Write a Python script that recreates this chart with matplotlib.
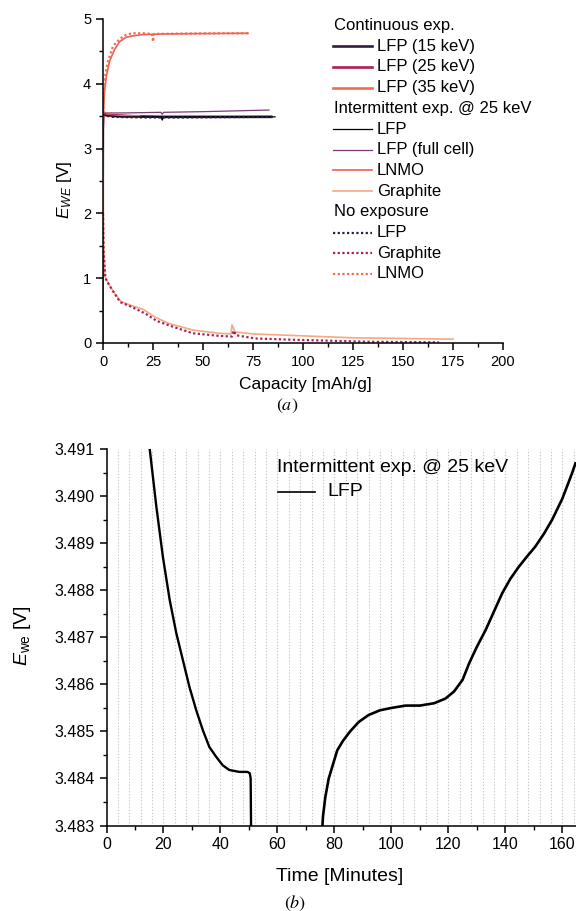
import numpy as np
import matplotlib.pyplot as plt
from matplotlib.lines import Line2D
from matplotlib.ticker import MultipleLocator, FormatStrFormatter

plt.rcParams["font.family"] = ["Liberation Sans", "DejaVu Sans"]
plt.rcParams["mathtext.fontset"] = "custom"
plt.rcParams["mathtext.rm"] = "Liberation Sans"
plt.rcParams["mathtext.it"] = "Liberation Sans:italic"

# ---------------- (a) potential vs capacity ----------------
# continuous exposure, LFP
cap_c15 = [0, 0.5, 2, 10, 30, 50, 70, 84]
v_c15 = [3.56, 3.53, 3.51, 3.50, 3.49, 3.49, 3.49, 3.49]
cap_c25 = [0, 0.5, 2, 8, 14]
v_c25 = [3.57, 3.53, 3.52, 3.51, 3.50]
cap_c35 = [0, 0.5, 2, 6, 12, 18]
v_c35 = [3.55, 3.52, 3.51, 3.50, 3.50, 3.50]

# intermittent exposure @ 25 keV
cap_lfp = [0, 0.5, 2, 5, 10, 20, 29, 29.6, 30.3, 40, 60, 86]
v_lfp = [3.56, 3.52, 3.51, 3.50, 3.49, 3.49, 3.49, 3.44, 3.49, 3.49, 3.49, 3.49]
cap_full = [0, 0.3, 0.6, 1, 10, 29, 29.6, 30.3, 50, 83]
v_full = [0.0, 3.3, 3.52, 3.55, 3.55, 3.56, 3.53, 3.56, 3.57, 3.595]
cap_lnmo = [0, 0.3, 0.8, 1.7, 3.3, 5.8, 8.3, 11.7, 15, 20, 31.7, 50, 72.5]
v_lnmo = [3.35, 3.6, 3.9, 4.12, 4.35, 4.53, 4.65, 4.72, 4.74, 4.76, 4.77, 4.775, 4.78]
cap_gra = [0, 0.3, 1, 3, 6, 9, 14, 20, 26, 33, 45, 58, 64, 64.5, 66, 75, 100, 125, 150, 175]
v_gra = [3.0, 1.6, 1.02, 0.9, 0.76, 0.64, 0.58, 0.52, 0.40, 0.30, 0.20, 0.15, 0.14, 0.28, 0.17,
         0.14, 0.11, 0.08, 0.07, 0.06]

# no exposure
cap_ne_lfp = [0, 1, 5, 20, 40, 60, 86]
v_ne_lfp = [3.53, 3.51, 3.49, 3.48, 3.48, 3.485, 3.49]
cap_ne_gra = [0, 0.3, 1.2, 3, 5, 8.6, 14.1, 21.4, 26.9, 36, 45, 58, 64.5, 65.3, 66.5, 76, 95,
              113, 131, 150, 168]
v_ne_gra = [2.0, 1.4, 1.0, 0.9, 0.8, 0.63, 0.56, 0.45, 0.34, 0.24, 0.15, 0.11, 0.10, 0.19, 0.12,
            0.07, 0.05, 0.036, 0.02, 0.015, 0.01]
cap_ne_lnmo = [0, 0.3, 1.3, 2.5, 5, 8.3, 11.7, 15, 20, 24.5, 25, 25.5, 40, 60, 72.5]
v_ne_lnmo = [3.4, 3.8, 4.17, 4.35, 4.58, 4.69, 4.76, 4.78, 4.78, 4.77, 4.65, 4.77, 4.775, 4.78, 4.78]

# ---------------- (b) LFP potential vs time ----------------
t_seg1 = [14.6, 15.2, 17.5, 19.8, 22.2, 24.5, 26.8, 29.1, 31.5, 33.8, 36.1, 38.5, 40.8, 43.1,
          46.6, 49.5, 50.3, 50.6, 50.8]
v_seg1 = [3.4912, 3.49099, 3.48978, 3.48871, 3.48779, 3.48709, 3.48652, 3.48595, 3.48545,
          3.48503, 3.48467, 3.48446, 3.48428, 3.48418, 3.48414, 3.48414, 3.48411, 3.4840, 3.4825]
t_seg2 = [75.5, 75.6, 76.0, 76.8, 78, 79.5, 81, 83, 85.5, 88.5, 92, 96, 100, 105, 110, 115, 119,
          122, 125, 127.3, 130, 133.1, 136, 138.9, 141.8, 144.7, 147.6, 150.5, 153.5, 156.4,
          160, 163.4, 164.6]
v_seg2 = [3.4825, 3.4828, 3.4832, 3.4836, 3.4840, 3.4843, 3.4846, 3.4848, 3.4850, 3.4852,
          3.48535, 3.48545, 3.4855, 3.48555, 3.48555, 3.4856, 3.4857, 3.48585, 3.4861, 3.48645,
          3.4868, 3.48716, 3.48755, 3.48794, 3.48825, 3.48850, 3.48872, 3.48893, 3.4892,
          3.48950, 3.48995, 3.49049, 3.4907]
exposure_t = np.arange(4, 165, 4)  # X-ray exposure instants, every 4 min

c_dark = "#2d1e3e"
c_crim = "#a91f5a"
c_orng = "#f26c4b"
c_purp = "#7a3a78"
c_lnmo = "#ee5f58"
c_gra = "#f6a882"
dots = (0, (1, 1.1))

W, H = 576, 911
fig = plt.figure(figsize=(W / 100, H / 100), dpi=100)


def fx(px):
    return px / W


def fy(py):
    return 1 - py / H


ax1 = fig.add_axes([fx(103), fy(343), 400 / W, 324 / H])
ax1.plot(cap_c15, v_c15, color=c_dark, lw=1.9)
ax1.plot(cap_c25, v_c25, color=c_crim, lw=1.9)
ax1.plot(cap_c35, v_c35, color=c_orng, lw=1.9)
ax1.plot(cap_lfp, v_lfp, color="black", lw=0.9)
ax1.plot(cap_full, v_full, color=c_purp, lw=0.9)
ax1.plot(cap_lnmo, v_lnmo, color=c_lnmo, lw=1.2)
ax1.plot(cap_gra, v_gra, color=c_gra, lw=1.2)
ax1.plot(cap_ne_lfp, v_ne_lfp, color=c_dark, lw=1.6, ls=dots)
ax1.plot(cap_ne_gra, v_ne_gra, color=c_crim, lw=1.6, ls=dots)
ax1.plot(cap_ne_lnmo, v_ne_lnmo, color=c_orng, lw=1.6, ls=dots)

ax1.set_xlim(0, 200)
ax1.set_ylim(0, 5)
ax1.xaxis.set_major_locator(MultipleLocator(25))
ax1.xaxis.set_minor_locator(MultipleLocator(12.5))
ax1.yaxis.set_major_locator(MultipleLocator(1))
ax1.yaxis.set_minor_locator(MultipleLocator(0.5))
ax1.set_xlabel("Capacity [mAh/g]", fontsize=12.5)
ax1.set_ylabel(r"$E_{WE}$ [V]", fontsize=12.5)
ax1.xaxis.set_label_coords(0.505, -0.104)
ax1.yaxis.set_label_coords(-0.072, 0.472)

# legend of panel (a), grouped by experiment type
legend_rows = [
    ("Continuous exp.", None, None, None),
    ("LFP (15 keV)", c_dark, 1.9, "-"),
    ("LFP (25 keV)", c_crim, 1.9, "-"),
    ("LFP (35 keV)", c_orng, 1.9, "-"),
    ("Intermittent exp. @ 25 keV", None, None, None),
    ("LFP", "black", 0.9, "-"),
    ("LFP (full cell)", c_purp, 0.9, "-"),
    ("LNMO", c_lnmo, 1.2, "-"),
    ("Graphite", c_gra, 1.2, "-"),
    ("No exposure", None, None, None),
    ("LFP", c_dark, 1.6, dots),
    ("Graphite", c_crim, 1.6, dots),
    ("LNMO", c_orng, 1.6, dots),
]
for i, (label, col, lw, ls) in enumerate(legend_rows):
    yy = 25.5 + i * 20.7
    if col is None:
        fig.text(fx(334), fy(yy), label, fontsize=12, va="center", ha="left")
    else:
        fig.add_artist(Line2D([fx(333), fx(372)], [fy(yy), fy(yy)], color=col, lw=lw, ls=ls))
        fig.text(fx(377), fy(yy), label, fontsize=12, va="center", ha="left")

fig.text(fx(287), fy(406), "$(a)$", fontsize=13, ha="center", va="center",
         math_fontfamily="stix")

# ---------------- panel (b) ----------------
ax2 = fig.add_axes([fx(106.5), fy(825.5), (576 - 106.5) / W, 376.2 / H])
for t in exposure_t:
    ax2.axvline(t, color="#c8c8c8", lw=0.8, ls=(0, (1.2, 1.6)), zorder=0)
ax2.plot(t_seg1, v_seg1, color="black", lw=1.7)
ax2.plot(t_seg2, v_seg2, color="black", lw=1.9)

ax2.set_xlim(0, 164.8)
ax2.set_ylim(3.483, 3.491)
ax2.xaxis.set_major_locator(MultipleLocator(20))
ax2.xaxis.set_minor_locator(MultipleLocator(10))
ax2.yaxis.set_major_locator(MultipleLocator(0.001))
ax2.yaxis.set_minor_locator(MultipleLocator(0.0005))
ax2.yaxis.set_major_formatter(FormatStrFormatter("%.3f"))
ax2.set_xlabel("Time [Minutes]", fontsize=14)
ax2.set_ylabel(r"$E_{\mathrm{we}}$ [V]", fontsize=14)
ax2.xaxis.set_label_coords(0.497, -0.113)
ax2.yaxis.set_label_coords(-0.1566, 0.506)

fig.text(fx(277), fy(467), "Intermittent exp. @ 25 keV", fontsize=14, va="center", ha="left")
fig.add_artist(Line2D([fx(278), fx(315)], [fy(492), fy(492)], color="black", lw=1.2))
fig.text(fx(327), fy(492), "LFP", fontsize=14, va="center", ha="left")

fig.text(fx(295), fy(903), "$(b)$", fontsize=13, ha="center", va="center",
         math_fontfamily="stix")

for ax, fs in ((ax1, 10.5), (ax2, 11.5)):
    ax.spines["top"].set_visible(False)
    ax.spines["right"].set_visible(False)
    ax.spines["left"].set_linewidth(1.1)
    ax.spines["bottom"].set_linewidth(1.1)
    ax.tick_params(which="major", direction="out", length=5, width=1.1, labelsize=fs)
    ax.tick_params(which="minor", direction="out", length=3, width=1.0)

fig.savefig("out.png", dpi=100)
